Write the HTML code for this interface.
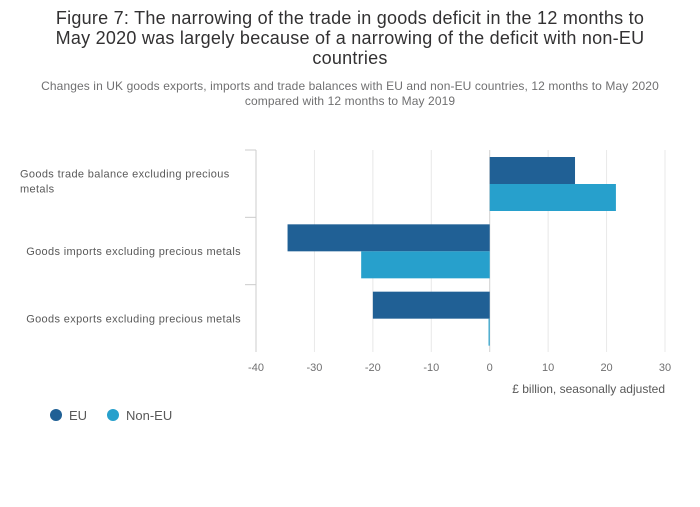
<!DOCTYPE html>
<html><head><meta charset="utf-8"><style>
body{margin:0;background:#fff;font-family:"Liberation Sans",sans-serif;}
svg text{font-family:"Liberation Sans",sans-serif;}
</style></head><body>
<svg id="chart" width="700" height="502">
<text x="350" y="24" text-anchor="middle" font-size="18" letter-spacing="0.25" fill="#323132"><tspan x="350">Figure 7: The narrowing of the trade in goods deficit in the 12 months to</tspan><tspan x="350" dy="20">May 2020 was largely because of a narrowing of the deficit with non-EU</tspan><tspan x="350" dy="20">countries</tspan></text>
<text x="350" y="90" text-anchor="middle" font-size="12" letter-spacing="0.1" fill="#707071"><tspan x="350">Changes in UK goods exports, imports and trade balances with EU and non-EU countries, 12 months to May 2020</tspan><tspan x="350" dy="15">compared with 12 months to May 2019</tspan></text>
<g id="grid"></g><g id="bars"></g><g id="labels"></g>
<text x="665" y="393" text-anchor="end" font-size="12" fill="#595959">£ billion, seasonally adjusted</text>
<g><circle cx="56" cy="415" r="6" fill="#206095"/><text x="69" y="420" font-size="13" fill="#595959">EU</text></g>
<g><circle cx="113" cy="415" r="6" fill="#27a0cc"/><text x="126" y="420" font-size="13" fill="#595959">Non-EU</text></g>
</svg>
<script>
const categories=["Goods trade balance excluding precious metals","Goods imports excluding precious metals","Goods exports excluding precious metals"];
const euValues=[14.6,-34.6,-20.0];
const nonEuValues=[21.6,-22.0,-0.2];
const ticks=[-40,-30,-20,-10,0,10,20,30];
const NS="http://www.w3.org/2000/svg";
const x0=256,x1=665,yTop=150,yBot=352,xmin=-40,xmax=30;
const xs=v=>x0+(v-xmin)/(xmax-xmin)*(x1-x0);
const band=(yBot-yTop)/categories.length;
function mk(t,a,p){const e=document.createElementNS(NS,t);for(const k in a)e.setAttribute(k,a[k]);document.getElementById(p).appendChild(e);return e;}
ticks.forEach(t=>{
 const l=mk('line',{x1:xs(t),x2:xs(t),y1:yTop,y2:yBot,stroke:t===0?'#d0d0d0':'#e8e8e8','stroke-width':1},'grid');
 
 
 const tx=mk('text',{x:xs(t),y:371,'text-anchor':'middle','font-size':11,fill:'#707071'},'labels');
 tx.textContent=t;
 
 
});
const ax=mk('line',{x1:256,x2:256,y1:yTop,y2:yBot,stroke:'#ccc'},'grid');


categories.forEach((c,i)=>{
 const by=yTop+i*band;
 const tk=mk('line',{x1:245,x2:256,y1:by,y2:by,stroke:'#ccc'},'grid');
 
 
 const bh=27,start=by+7;
 [[euValues[i],'#206095','bar-eu'],[nonEuValues[i],'#27a0cc','bar-non-eu']].forEach((d,j)=>{
  const a=xs(Math.min(0,d[0])),b=xs(Math.max(0,d[0]));
  const r=mk('rect',{x:a,y:start+j*bh,width:Math.max(1,b-a),height:bh,fill:d[1]},'bars');
  
  
 });
 const cy=by+band/2;
 const t=mk('text',{'font-size':11,fill:'#595959','letter-spacing':0.35},'labels');
 
 
 if(i===0){t.setAttribute('x',20);t.innerHTML='<tspan x="20" y="'+(cy-6)+'">Goods trade balance excluding precious</tspan><tspan x="20" y="'+(cy+9)+'">metals</tspan>';}
 else{t.setAttribute('x',241);t.setAttribute('y',cy+4);t.setAttribute('text-anchor','end');t.textContent=c;}
});
</script>
</body></html>
